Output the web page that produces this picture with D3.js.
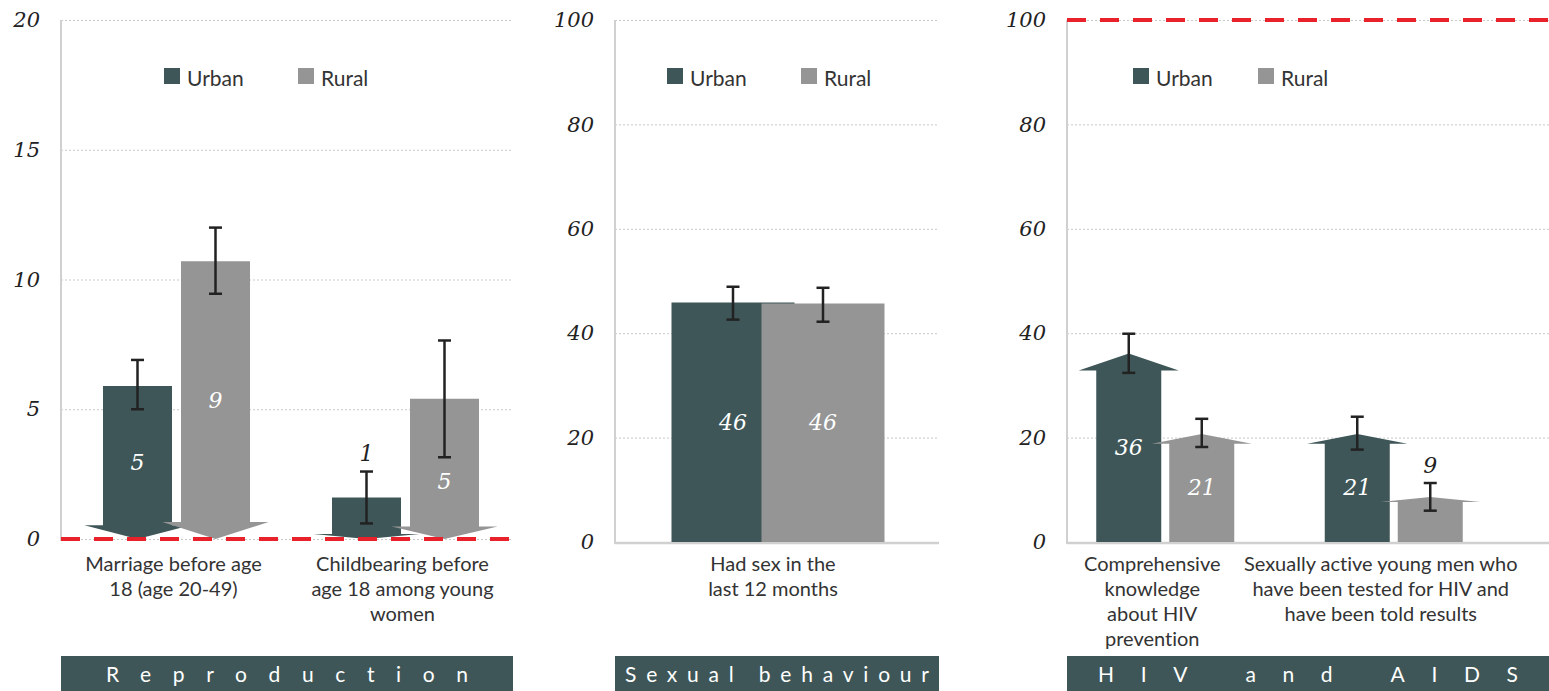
<!DOCTYPE html>
<html>
<head>
<meta charset="utf-8">
<script src="https://cdn.jsdelivr.net/npm/d3@7"></script>
<style>
  body { margin: 0; background: #fff; }
  svg { display: block; }
  text { font-variant-ligatures: none; }
</style>
</head>
<body>
<div id="chart"></div>
<script>
// series
const seriesNames = ["Urban", "Rural"];
const seriesColors = ["#3e5657", "#959595"];

// Reproduction panel
const reproTitle = "Reproduction";
const reproTicks = [0, 5, 10, 15, 20];
const reproCategories = [
  ["Marriage before age", "18 (age 20-49)"],
  ["Childbearing before", "age 18 among young", "women"],
];
const reproUrban = [5.9, 1.6];
const reproUrbanLow = [5.0, 0.6];
const reproUrbanHigh = [6.9, 2.6];
const reproUrbanLabels = ["5", "1"];
const reproRural = [10.7, 5.4];
const reproRuralLow = [9.45, 3.15];
const reproRuralHigh = [12.0, 7.65];
const reproRuralLabels = ["9", "5"];
const reproTarget = 0;

// Sexual behaviour panel
const sexTitle = "Sexual behaviour";
const sexTicks = [0, 20, 40, 60, 80, 100];
const sexCategories = [["Had sex in the", "last 12 months"]];
const sexUrban = [45.9];
const sexUrbanLow = [42.6];
const sexUrbanHigh = [48.9];
const sexUrbanLabels = ["46"];
const sexRural = [45.7];
const sexRuralLow = [42.2];
const sexRuralHigh = [48.7];
const sexRuralLabels = ["46"];

// HIV and AIDS panel
const hivTitle = "HIV and AIDS";
const hivTicks = [0, 20, 40, 60, 80, 100];
const hivCategories = [
  ["Comprehensive", "knowledge", "about HIV", "prevention"],
  ["Sexually active young men who", "have been tested for HIV and", "have been told results"],
];
const hivUrban = [36.1, 20.7];
const hivUrbanLow = [32.4, 17.7];
const hivUrbanHigh = [39.9, 24.0];
const hivUrbanLabels = ["36", "21"];
const hivRural = [20.7, 8.6];
const hivRuralLow = [18.2, 6.0];
const hivRuralHigh = [23.6, 11.3];
const hivRuralLabels = ["21", "9"];
const hivTarget = 100;

const W = 1549, H = 691;
const sansFont = "Lato, 'Open Sans', sans-serif";
const serifFont = "'DejaVu Serif', serif";

const svg = d3.select("#chart").append("svg")
  .attr("width", W)
  .attr("height", H)
  .attr("viewBox", `0 0 ${W} ${H}`);

function series(values, low, high, labels) {
  return values.map((v, i) => ({ v, low: low[i], high: high[i], label: labels[i] }));
}

const panels = [
  {
    title: reproTitle, ticks: reproTicks, categories: reproCategories,
    urban: series(reproUrban, reproUrbanLow, reproUrbanHigh, reproUrbanLabels),
    rural: series(reproRural, reproRuralLow, reproRuralHigh, reproRuralLabels),
    target: reproTarget, arrow: "down",
    axisX: 61, right: 513, xRange: [62, 520], yRange: [539, 20],
    barWidth: 69, offset: 39, labelShift: -3,
    legendX: [164, 298], titleLength: 362, baseline: false,
  },
  {
    title: sexTitle, ticks: sexTicks, categories: sexCategories,
    urban: series(sexUrban, sexUrbanLow, sexUrbanHigh, sexUrbanLabels),
    rural: series(sexRural, sexRuralLow, sexRuralHigh, sexRuralLabels),
    target: null, arrow: null,
    axisX: 615, right: 939, xRange: [615, 941], yRange: [542, 20],
    barWidth: 123, offset: 45, labelShift: -5,
    legendX: [667, 801], titleLength: 304, baseline: true,
  },
  {
    title: hivTitle, ticks: hivTicks, categories: hivCategories,
    urban: series(hivUrban, hivUrbanLow, hivUrbanHigh, hivUrbanLabels),
    rural: series(hivRural, hivRuralLow, hivRuralHigh, hivRuralLabels),
    target: hivTarget, arrow: "up",
    axisX: 1067, right: 1549, xRange: [1051, 1508], yRange: [542, 20],
    barWidth: 65, offset: 36.5, labelShift: -13,
    legendX: [1133, 1258], titleLength: 420, baseline: true,
  },
];

panels.forEach(drawPanel);

function barPath(p, y, cx, d) {
  const w = p.barWidth;
  const y0 = y(0);
  const yv = y(d.v);
  const px = y0 - yv;
  if (!p.arrow) {
    return `M${cx - w / 2},${y0}V${yv}H${cx + w / 2}V${y0}Z`;
  }
  const head = Math.max(5, Math.min(17, px * 0.09));
  const hw = w * 0.77;
  if (p.arrow === "down") {
    const b = y0 - head;
    return `M${cx - w / 2},${yv}H${cx + w / 2}V${b}H${cx + hw}L${cx},${y0}L${cx - hw},${b}H${cx - w / 2}Z`;
  }
  const b = yv + head;
  return `M${cx - w / 2},${y0}V${b}H${cx - hw}L${cx},${yv}L${cx + hw},${b}H${cx + w / 2}V${y0}Z`;
}

function drawPanel(p) {
  const g = svg.append("g");
  const domainMax = d3.max(p.ticks);
  const y = d3.scaleLinear().domain([0, domainMax]).range(p.yRange);
  const x = d3.scaleBand()
    .domain(p.categories.map((c, i) => i))
    .range(p.xRange);

  // gridlines
  g.append("g")
    .attr("transform", `translate(${p.axisX},0)`)
    .call(d3.axisRight(y).tickValues(p.ticks).tickSize(p.right - p.axisX).tickFormat(""))
    .call(s => s.select(".domain").remove())
    .call(s => s.selectAll("line")
      .attr("stroke", "#c9c9c9")
      .attr("stroke-width", 1)
      .attr("stroke-dasharray", "2,2"));

  // y axis labels
  g.append("g")
    .attr("transform", `translate(${p.axisX},0)`)
    .call(d3.axisLeft(y).tickValues(p.ticks).tickSize(0).tickPadding(21))
    .call(s => s.select(".domain").remove())
    .call(s => s.selectAll("text")
      .attr("font-family", serifFont)
      .attr("font-style", "italic")
      .attr("font-size", 21)
      .attr("fill", "#222"));

  // vertical axis line
  g.append("line")
    .attr("x1", p.axisX).attr("x2", p.axisX)
    .attr("y1", y(domainMax)).attr("y2", y(0) + 2)
    .attr("stroke", "#d0d0d0")
    .attr("stroke-width", 2);

  if (p.baseline) {
    g.append("line")
      .attr("x1", p.axisX).attr("x2", p.right)
      .attr("y1", y(0) + 1).attr("y2", y(0) + 1)
      .attr("stroke", "#d0d0d0")
      .attr("stroke-width", 2.5);
  }

  // legend
  const legend = g.selectAll(".legend")
    .data(seriesNames)
    .enter()
    .append("g")
    .attr("class", "legend")
    .attr("transform", (d, i) => `translate(${p.legendX[i]}, 68)`);
  legend.append("rect")
    .attr("width", 16).attr("height", 16)
    .attr("fill", (d, i) => seriesColors[i]);
  legend.append("text")
    .attr("x", 23).attr("y", 9)
    .attr("dominant-baseline", "central")
    .attr("font-family", sansFont)
    .attr("font-size", 21)
    .attr("fill", "#333")
    .text(d => d);

  // bars, urban then rural
  const sets = [p.urban, p.rural];
  const barData = [];
  sets.forEach((s, si) => s.forEach((d, i) => {
    const cx = x(i) + x.bandwidth() / 2 + (si === 0 ? -p.offset : p.offset);
    barData.push({ ...d, si, cx });
  }));

  g.append("g")
    .selectAll("path")
    .data(barData)
    .enter()
    .append("path")
    .attr("d", d => barPath(p, y, d.cx, d))
    .attr("fill", d => seriesColors[d.si]);

  // error bars
  const err = g.append("g")
    .selectAll("g")
    .data(barData)
    .enter()
    .append("g")
    .attr("stroke", "#222")
    .attr("stroke-width", 2.5);
  err.append("line")
    .attr("x1", d => d.cx).attr("x2", d => d.cx)
    .attr("y1", d => y(d.low)).attr("y2", d => y(d.high));
  err.append("line")
    .attr("x1", d => d.cx - 6.5).attr("x2", d => d.cx + 6.5)
    .attr("y1", d => y(d.high)).attr("y2", d => y(d.high));
  err.append("line")
    .attr("x1", d => d.cx - 6.5).attr("x2", d => d.cx + 6.5)
    .attr("y1", d => y(d.low)).attr("y2", d => y(d.low));

  // value labels
  g.append("g")
    .selectAll("text")
    .data(barData)
    .enter()
    .append("text")
    .attr("x", d => d.cx)
    .attr("y", d => {
      const top = y(d.v), bottom = y(0);
      if (bottom - top < 60) return y(d.high) - 18;
      return Math.max((top + bottom) / 2, y(d.low) + 24);
    })
    .attr("text-anchor", "middle")
    .attr("dominant-baseline", "central")
    .attr("font-family", serifFont)
    .attr("font-style", "italic")
    .attr("font-size", 22)
    .attr("fill", d => (y(0) - y(d.v) < 60 ? "#222" : "#fff"))
    .text(d => d.label);

  // target line
  if (p.target !== null) {
    g.append("line")
      .attr("x1", p.axisX).attr("x2", p.right)
      .attr("y1", y(p.target)).attr("y2", y(p.target))
      .attr("stroke", "#e8212b")
      .attr("stroke-width", 4)
      .attr("stroke-dasharray", "19,14");
  }

  // category labels
  const cat = g.append("g")
    .selectAll("text")
    .data(p.categories)
    .enter()
    .append("text")
    .attr("text-anchor", "middle")
    .attr("font-family", sansFont)
    .attr("font-size", 20)
    .attr("fill", "#333");
  cat.selectAll("tspan")
    .data((d, i) => d.map(line => ({ line, i })))
    .enter()
    .append("tspan")
    .attr("x", d => x(d.i) + x.bandwidth() / 2 + p.labelShift)
    .attr("y", (d, j) => 563 + j * 25)
    .attr("dominant-baseline", "central")
    .text(d => d.line);

  // section title box
  g.append("rect")
    .attr("x", p.axisX)
    .attr("y", 656)
    .attr("width", p.right - p.axisX)
    .attr("height", H - 656)
    .attr("fill", seriesColors[0]);
  g.append("text")
    .attr("x", (p.axisX + p.right) / 2)
    .attr("y", 673)
    .attr("text-anchor", "middle")
    .attr("dominant-baseline", "central")
    .attr("font-family", sansFont)
    .attr("font-size", 21)
    .attr("fill", "#fff")
    .attr("textLength", p.titleLength)
    .attr("lengthAdjust", "spacing")
    .text(p.title);
}
</script>
</body>
</html>
